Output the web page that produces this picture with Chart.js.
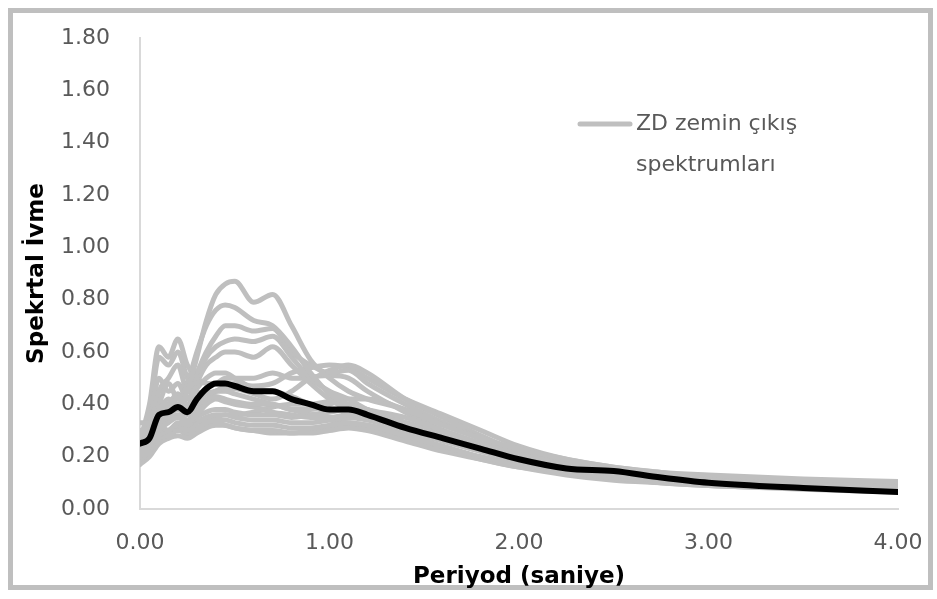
<!DOCTYPE html>
<html>
<head>
<meta charset="utf-8">
<script src="https://cdn.jsdelivr.net/npm/chart.js@4/dist/chart.umd.min.js"></script>
<style>
html,body{margin:0;padding:0;background:#fff;}
#c{display:block;}
</style>
</head>
<body>
<canvas id="c" width="937" height="599"></canvas>
<script>
// ---- data ----
const periods = [0,0.05,0.1,0.15,0.2,0.25,0.3,0.35,0.4,0.45,0.5,0.6,0.7,0.8,0.9,1.0,1.1,1.2,1.4,1.6,1.8,2.0,2.25,2.5,2.75,3.0,3.5,4.0];

const s01 = [0.33,0.33,0.38,0.42,0.40,0.45,0.58,0.72,0.82,0.86,0.87,0.79,0.82,0.70,0.57,0.50,0.45,0.42,0.38,0.32,0.27,0.23,0.19,0.16,0.14,0.13,0.115,0.105];
const s02 = [0.30,0.31,0.40,0.48,0.42,0.48,0.60,0.70,0.76,0.78,0.77,0.72,0.70,0.62,0.52,0.44,0.40,0.38,0.35,0.30,0.25,0.21,0.17,0.14,0.12,0.11,0.095,0.085];
const s03 = [0.25,0.30,0.45,0.50,0.55,0.45,0.52,0.60,0.66,0.70,0.70,0.68,0.69,0.60,0.55,0.52,0.53,0.48,0.40,0.33,0.27,0.22,0.18,0.15,0.13,0.12,0.105,0.095];
const s04 = [0.27,0.33,0.50,0.45,0.48,0.42,0.50,0.58,0.62,0.64,0.65,0.64,0.66,0.58,0.50,0.45,0.42,0.38,0.33,0.28,0.24,0.20,0.17,0.14,0.12,0.11,0.095,0.085];
const s05 = [0.22,0.28,0.40,0.38,0.40,0.38,0.48,0.55,0.58,0.60,0.60,0.58,0.62,0.55,0.48,0.42,0.38,0.35,0.31,0.27,0.23,0.19,0.16,0.14,0.12,0.11,0.10,0.09];
const s06 = [0.26,0.40,0.62,0.58,0.65,0.55,0.50,0.48,0.48,0.50,0.50,0.50,0.52,0.50,0.50,0.53,0.55,0.52,0.42,0.35,0.28,0.22,0.18,0.15,0.13,0.12,0.105,0.095];
const s07 = [0.24,0.35,0.58,0.55,0.60,0.50,0.45,0.44,0.45,0.47,0.48,0.47,0.48,0.52,0.54,0.55,0.54,0.50,0.42,0.36,0.30,0.24,0.19,0.16,0.14,0.12,0.11,0.10];
const s08 = [0.20,0.25,0.38,0.40,0.42,0.40,0.42,0.44,0.45,0.46,0.46,0.44,0.42,0.45,0.50,0.51,0.50,0.45,0.37,0.30,0.25,0.20,0.17,0.14,0.12,0.11,0.10,0.09];
const s09 = [0.22,0.26,0.33,0.36,0.38,0.36,0.40,0.42,0.43,0.42,0.41,0.40,0.40,0.38,0.38,0.40,0.42,0.42,0.38,0.32,0.27,0.22,0.18,0.15,0.13,0.115,0.10,0.09];
const s10 = [0.20,0.24,0.30,0.33,0.35,0.33,0.36,0.40,0.42,0.41,0.40,0.39,0.37,0.36,0.35,0.35,0.36,0.35,0.33,0.29,0.25,0.21,0.17,0.14,0.12,0.11,0.095,0.085];
const s11 = [0.21,0.25,0.32,0.30,0.33,0.32,0.35,0.37,0.38,0.38,0.37,0.36,0.36,0.35,0.36,0.37,0.38,0.37,0.32,0.27,0.23,0.19,0.16,0.13,0.11,0.10,0.085,0.075];
const s12 = [0.19,0.22,0.28,0.30,0.32,0.30,0.33,0.35,0.36,0.36,0.35,0.34,0.34,0.33,0.33,0.34,0.35,0.34,0.30,0.26,0.22,0.18,0.15,0.13,0.11,0.10,0.085,0.075];
const s13 = [0.18,0.21,0.27,0.28,0.30,0.29,0.31,0.33,0.34,0.34,0.33,0.32,0.32,0.31,0.31,0.32,0.33,0.32,0.28,0.24,0.20,0.17,0.14,0.12,0.10,0.09,0.08,0.07];
const s14 = [0.17,0.20,0.25,0.27,0.28,0.27,0.29,0.31,0.32,0.32,0.31,0.30,0.30,0.29,0.29,0.30,0.31,0.30,0.26,0.22,0.19,0.16,0.13,0.11,0.10,0.09,0.075,0.065];
const s15 = [0.18,0.22,0.30,0.29,0.31,0.28,0.30,0.32,0.33,0.32,0.31,0.30,0.29,0.29,0.30,0.31,0.32,0.31,0.27,0.23,0.19,0.16,0.14,0.12,0.10,0.09,0.08,0.07];
const s16 = [0.23,0.28,0.36,0.40,0.44,0.40,0.46,0.50,0.52,0.52,0.50,0.46,0.45,0.43,0.40,0.38,0.38,0.36,0.33,0.28,0.24,0.20,0.17,0.14,0.12,0.11,0.095,0.085];
const s17 = [0.20,0.24,0.31,0.34,0.36,0.34,0.38,0.41,0.45,0.45,0.44,0.42,0.40,0.38,0.36,0.34,0.33,0.32,0.29,0.26,0.22,0.19,0.16,0.14,0.12,0.11,0.10,0.09];
const s18 = [0.19,0.23,0.28,0.29,0.32,0.31,0.33,0.34,0.35,0.36,0.36,0.37,0.39,0.40,0.40,0.41,0.40,0.38,0.33,0.28,0.23,0.19,0.16,0.13,0.11,0.10,0.085,0.075];

const meanSpectrum = [0.25,0.27,0.36,0.37,0.39,0.37,0.42,0.46,0.48,0.48,0.47,0.45,0.45,0.42,0.40,0.38,0.38,0.36,0.31,0.27,0.23,0.19,0.155,0.145,0.12,0.10,0.08,0.065];

const graySeries = [s01,s02,s03,s04,s05,s06,s07,s08,s09,s10,s11,s12,s13,s14,s15,s16,s17,s18];
const grayLabel = 'ZD zemin çıkış spektrumları';
const legendLines = ['ZD zemin çıkış', 'spektrumları'];
const xTicks = [0,1,2,3,4];
const yTicks = [0,0.2,0.4,0.6,0.8,1.0,1.2,1.4,1.6,1.8];
const xTitle = 'Periyod (saniye)';
const yTitle = 'Spekrtal İvme';

// ---- build ----
const toPts = arr => periods.map((p,i)=>({x:p,y:arr[i]}));
const GRAY = '#bfbfbf';
const datasets = [{
  label: 'Ortalama',
  data: toPts(meanSpectrum),
  borderColor: '#000000',
  borderWidth: 6,
  order: 0
}].concat(graySeries.map((s,i)=>({
  label: grayLabel,
  data: toPts(s),
  borderColor: GRAY,
  borderWidth: 5,
  order: 1
})));

const FONT = 'DejaVu Sans';

const framePlugin = {
  id: 'frame',
  beforeDraw(chart){
    const ctx = chart.ctx;
    ctx.save();
    ctx.fillStyle = '#ffffff';
    ctx.fillRect(0,0,chart.width,chart.height);
    ctx.strokeStyle = '#bfbfbf';
    ctx.lineWidth = 5;
    ctx.strokeRect(10.5,10.5,920,577);
    ctx.restore();
  }
};

const legendPlugin = {
  id: 'customLegend',
  afterDraw(chart){
    const ctx = chart.ctx;
    const ds = chart.data.datasets[1];
    ctx.save();
    ctx.strokeStyle = ds.borderColor;
    ctx.lineWidth = 5;
    ctx.lineCap = 'round';
    ctx.beginPath();
    ctx.moveTo(580,124);
    ctx.lineTo(630,124);
    ctx.stroke();
    ctx.fillStyle = '#595959';
    ctx.font = '22px "' + FONT + '"';
    ctx.textBaseline = 'middle';
    ctx.textAlign = 'left';
    ctx.fillText(legendLines[0], 636, 124);
    ctx.fillText(legendLines[1], 636, 165);
    ctx.restore();
  }
};

new Chart(document.getElementById('c'), {
  type: 'line',
  data: { datasets },
  options: {
    responsive: false,
    animation: false,
    layout: { padding: { top: 38, right: 39, bottom: 0, left: 0 } },
    elements: {
      point: { radius: 0 },
      line: { tension: 0.3, cubicInterpolationMode: 'monotone', borderJoinStyle: 'round', borderCapStyle: 'round' }
    },
    plugins: { legend: { display: false }, tooltip: { enabled: false } },
    scales: {
      x: {
        type: 'linear',
        min: 0, max: 4,
        afterFit(scale){ scale.height = 90; scale.paddingLeft = 0; scale.paddingRight = 0; },
        afterBuildTicks(scale){ scale.ticks = xTicks.map(v=>({value:v})); },
        grid: { display: false, drawTicks: false },
        border: { display: true, color: '#d9d9d9', width: 2 },
        ticks: {
          padding: 21,
          color: '#595959',
          font: { family: FONT, size: 22 },
          maxRotation: 0,
          callback: v => Number(v).toFixed(2)
        },
        title: {
          display: true, text: xTitle, color: '#000',
          font: { family: FONT, size: 23, weight: 'bold' },
          padding: { top: 0, bottom: 8 }
        }
      },
      y: {
        min: 0, max: 1.8,
        afterFit(scale){ scale.width = 140; scale.paddingTop = 0; scale.paddingBottom = 0; },
        afterBuildTicks(scale){ scale.ticks = yTicks.map(v=>({value:v})); },
        grid: { display: false, drawTicks: false },
        border: { display: true, color: '#d9d9d9', width: 2 },
        ticks: {
          padding: 30,
          color: '#595959',
          font: { family: FONT, size: 22 },
          callback: v => Number(v).toFixed(2)
        },
        title: {
          display: true, text: yTitle, color: '#000',
          font: { family: FONT, size: 23, weight: 'bold' },
          padding: { top: 23, bottom: 0 }
        }
      }
    }
  },
  plugins: [framePlugin, legendPlugin]
});
</script>
</body>
</html>
